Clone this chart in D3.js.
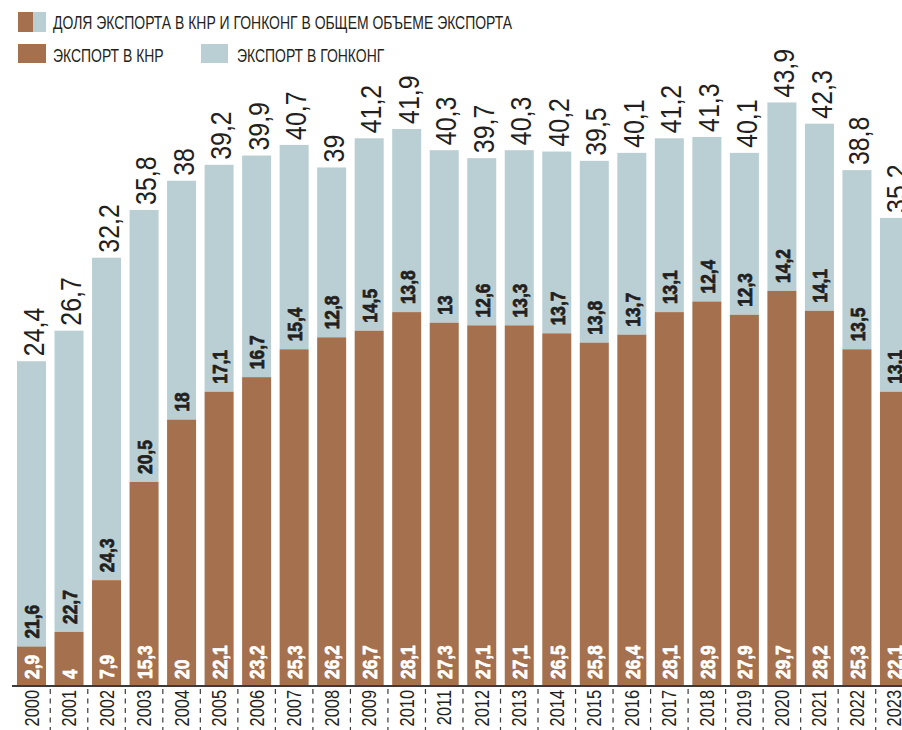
<!DOCTYPE html>
<html>
<head>
<meta charset="utf-8">
<script src="https://cdn.jsdelivr.net/npm/d3@7"></script>
<style>
  html, body { margin: 0; padding: 0; background: #fff; overflow: hidden; }
  svg { display: block; }
</style>
</head>
<body>
<svg id="chart" width="902" height="730"></svg>
<script>
// Export shares, % of total exports
const years = ["2000","2001","2002","2003","2004","2005","2006","2007","2008","2009","2010","2011",
               "2012","2013","2014","2015","2016","2017","2018","2019","2020","2021","2022","2023"];
const chinaShare = [2.9, 4, 7.9, 15.3, 20, 22.1, 23.2, 25.3, 26.2, 26.7, 28.1, 27.3,
                    27.1, 27.1, 26.5, 25.8, 26.4, 28.1, 28.9, 27.9, 29.7, 28.2, 25.3, 22.1];
const hongKongShare = [21.6, 22.7, 24.3, 20.5, 18, 17.1, 16.7, 15.4, 12.8, 14.5, 13.8, 13,
                       12.6, 13.3, 13.7, 13.8, 13.7, 13.1, 12.4, 12.3, 14.2, 14.1, 13.5, 13.1];
const totalShare = [24.4, 26.7, 32.2, 35.8, 38, 39.2, 39.9, 40.7, 39, 41.2, 41.9, 40.3,
                    39.7, 40.3, 40.2, 39.5, 40.1, 41.2, 41.3, 40.1, 43.9, 42.3, 38.8, 35.2];

const legendTitle = "ДОЛЯ ЭКСПОРТА В КНР И ГОНКОНГ В ОБЩЕМ ОБЪЕМЕ ЭКСПОРТА";
const legendChina = "ЭКСПОРТ В КНР";
const legendHongKong = "ЭКСПОРТ В ГОНКОНГ";

const COLOR_CHINA = "#a4704d";
const COLOR_HK = "#b9cfd3";
const TEXT = "#231f20";
const SANS = "'Liberation Sans', Arial, sans-serif";

const svg = d3.select("#chart");

const baseline = 685;
const x = d3.scaleBand()
  .domain(years)
  .range([12.74, 12.74 + 24 * 37.52])
  .paddingInner(0.227)
  .paddingOuter(0.1135);

const y = d3.scaleLinear().domain([0, 50]).range([baseline, baseline - 50 * 13.27]);

const fmt = v => String(v).replace(".", ",");

const rows = years.map((yr, i) => ({
  year: yr, china: chinaShare[i], hk: hongKongShare[i], total: totalShare[i]
}));

// Legend (condensed caps)
const legend = svg.append("g");
function legendText(tx, ty, str) {
  legend.append("text")
    .attr("transform", `translate(${tx},${ty}) scale(0.775,1)`)
    .attr("font-family", SANS).attr("font-size", 18).attr("fill", TEXT)
    .text(str);
}
legend.append("rect").attr("x", 18).attr("y", 12).attr("width", 15).attr("height", 20).attr("fill", COLOR_CHINA);
legend.append("rect").attr("x", 33).attr("y", 12).attr("width", 13).attr("height", 20).attr("fill", COLOR_HK);
legendText(53, 29, legendTitle);
legend.append("rect").attr("x", 18).attr("y", 44).attr("width", 28).attr("height", 19).attr("fill", COLOR_CHINA);
legendText(53, 62, legendChina);
legend.append("rect").attr("x", 201).attr("y", 44).attr("width", 27).attr("height", 19).attr("fill", COLOR_HK);
legendText(237, 62, legendHongKong);

// Stacked bars: China at the bottom, Hong Kong up to the total share
const bars = svg.append("g").selectAll("g").data(rows).join("g");

bars.append("rect")
  .attr("x", d => x(d.year)).attr("width", x.bandwidth())
  .attr("y", d => y(d.total)).attr("height", d => y(d.china) - y(d.total))
  .attr("fill", COLOR_HK);

bars.append("rect")
  .attr("x", d => x(d.year)).attr("width", x.bandwidth())
  .attr("y", d => y(d.china)).attr("height", d => y(0) - y(d.china))
  .attr("fill", COLOR_CHINA);

const cx = d => x(d.year) + x.bandwidth() / 2;

// Total share above each bar
bars.append("text")
  .attr("transform", d => `translate(${cx(d) + 2},${y(d.total) - 5}) rotate(-90) scale(0.86,1)`)
  .attr("dy", "0.35em")
  .attr("font-family", SANS).attr("font-size", 29).attr("fill", TEXT)
  .text(d => fmt(d.total));

// China share inside the brown segment
bars.append("text")
  .attr("transform", d => `translate(${cx(d) + 1},${y(0) - 6}) rotate(-90) scale(0.89,1)`)
  .attr("dy", "0.35em")
  .attr("font-family", SANS).attr("font-weight", "bold").attr("font-size", 19.5)
  .attr("fill", "#fff").attr("stroke", "#fff").attr("stroke-width", 0.7)
  .text(d => fmt(d.china));

// Hong Kong share inside the light segment
bars.append("text")
  .attr("transform", d => `translate(${cx(d) + 1},${y(d.china) - 8}) rotate(-90) scale(0.89,1)`)
  .attr("dy", "0.35em")
  .attr("font-family", SANS).attr("font-weight", "bold").attr("font-size", 19.5)
  .attr("fill", TEXT).attr("stroke", TEXT).attr("stroke-width", 0.7)
  .text(d => fmt(d.hk));

// Baseline
svg.append("line")
  .attr("x1", 12).attr("x2", 902).attr("y1", baseline + 1).attr("y2", baseline + 1)
  .attr("stroke", "#3b3b3b").attr("stroke-width", 2);

// Dashed separators between years
const gap = x.step() - x.bandwidth();
svg.append("g").selectAll("line").data(years.slice(1)).join("line")
  .attr("x1", d => x(d) - gap / 2).attr("x2", d => x(d) - gap / 2)
  .attr("y1", 689).attr("y2", 730)
  .attr("stroke", "#3b3b3b").attr("stroke-width", 1.2)
  .attr("stroke-dasharray", "5,4.5");

// Year labels
svg.append("g").selectAll("text").data(years).join("text")
  .attr("transform", d => `translate(${x(d) + x.bandwidth() / 2},690) rotate(-90) scale(0.82,1)`)
  .attr("dy", "0.35em")
  .attr("text-anchor", "end")
  .attr("font-family", SANS).attr("font-size", 20).attr("fill", TEXT)
  .text(d => d);
</script>
</body>
</html>
